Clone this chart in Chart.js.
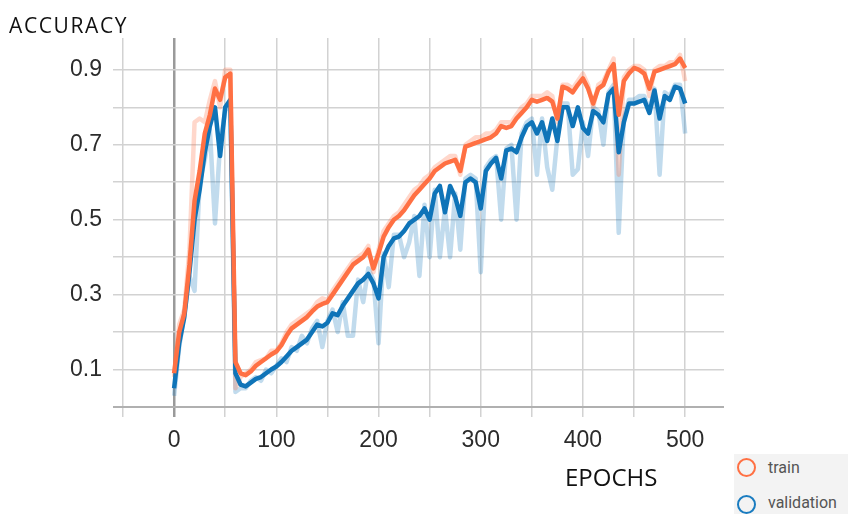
<!DOCTYPE html>
<html>
<head>
<meta charset="utf-8">
<script src="https://cdn.jsdelivr.net/npm/chart.js@4.4.1/dist/chart.umd.min.js"></script>
<style>
    body { margin: 0; background: #fff; }
    #wrap { position: relative; width: 848px; height: 514px; overflow: hidden; }
    #yTitle { position: absolute; left: 9px; top: 15px; font: 21px/21px "Open Sans", sans-serif; letter-spacing: 1.6px; color: #111; }
    #xTitle { position: absolute; left: 565px; top: 465px; font: 24px/24px "Open Sans", sans-serif; color: #111; }
    #legendBox { position: absolute; left: 734px; top: 454px; width: 114px; height: 60px; background: #f3f3f3; }
    .dot { position: absolute; width: 15px; height: 15px; border-radius: 50%; border: 2px solid; box-sizing: content-box; }
    .lbl { position: absolute; left: 768px; font: 16px/16px Roboto, sans-serif; color: #555; }
</style>
</head>
<body>
<div id="wrap">
    <canvas id="accChart" width="848" height="514"></canvas>
    <div id="yTitle">ACCURACY</div>
    <div id="xTitle">EPOCHS</div>
    <div id="legendBox"></div>
    <div class="dot" style="left:737px; top:458px; border-color:#ff7043;"></div>
    <div class="lbl" style="top:460px;">train</div>
    <div class="dot" style="left:737px; top:495px; border-color:#1a7cc0;"></div>
    <div class="lbl" style="top:495px;">validation</div>
</div>
<script>
// epochs sampled every 5
const epochs = [0, 5, 10, 15, 20, 25, 30, 35, 40, 45, 50, 55, 60, 65, 70, 75, 80, 85, 90, 95,
    100, 105, 110, 115, 120, 125, 130, 135, 140, 145, 150, 155, 160, 165, 170, 175, 180, 185, 190, 195,
    200, 205, 210, 215, 220, 225, 230, 235, 240, 245, 250, 255, 260, 265, 270, 275, 280, 285, 290, 295,
    300, 305, 310, 315, 320, 325, 330, 335, 340, 345, 350, 355, 360, 365, 370, 375, 380, 385, 390, 395,
    400, 405, 410, 415, 420, 425, 430, 435, 440, 445, 450, 455, 460, 465, 470, 475, 480, 485, 490, 495, 500];

// smoothed curves
const trainSmooth = [0.09, 0.20, 0.25, 0.38, 0.55, 0.63, 0.73, 0.78, 0.85, 0.82, 0.88, 0.89, 0.12, 0.09, 0.085, 0.095, 0.11, 0.12, 0.13, 0.14,
    0.148, 0.165, 0.19, 0.21, 0.22, 0.23, 0.24, 0.255, 0.268, 0.275, 0.28, 0.30, 0.32, 0.34, 0.36, 0.38, 0.39, 0.40, 0.42, 0.37,
    0.41, 0.455, 0.48, 0.50, 0.51, 0.525, 0.545, 0.565, 0.58, 0.595, 0.61, 0.63, 0.64, 0.65, 0.655, 0.66, 0.63, 0.695, 0.70, 0.705,
    0.71, 0.715, 0.72, 0.73, 0.75, 0.745, 0.75, 0.77, 0.785, 0.80, 0.82, 0.815, 0.82, 0.825, 0.815, 0.77, 0.855, 0.85, 0.84, 0.86,
    0.877, 0.85, 0.81, 0.85, 0.86, 0.895, 0.915, 0.78, 0.87, 0.89, 0.905, 0.90, 0.89, 0.85, 0.895, 0.90, 0.905, 0.91, 0.915, 0.93, 0.905];

const valSmooth = [0.05, 0.17, 0.24, 0.36, 0.50, 0.58, 0.68, 0.75, 0.80, 0.67, 0.80, 0.82, 0.09, 0.06, 0.055, 0.065, 0.075, 0.08, 0.09, 0.10,
    0.108, 0.12, 0.135, 0.15, 0.16, 0.17, 0.18, 0.20, 0.22, 0.215, 0.225, 0.25, 0.245, 0.27, 0.29, 0.31, 0.33, 0.34, 0.355, 0.33,
    0.29, 0.40, 0.43, 0.45, 0.455, 0.47, 0.49, 0.50, 0.51, 0.53, 0.50, 0.57, 0.59, 0.52, 0.59, 0.56, 0.51, 0.60, 0.61, 0.60,
    0.53, 0.63, 0.65, 0.665, 0.61, 0.685, 0.69, 0.68, 0.72, 0.75, 0.76, 0.73, 0.76, 0.71, 0.77, 0.71, 0.80, 0.80, 0.75, 0.80,
    0.745, 0.73, 0.79, 0.78, 0.76, 0.835, 0.85, 0.68, 0.76, 0.81, 0.81, 0.815, 0.82, 0.785, 0.845, 0.77, 0.83, 0.82, 0.855, 0.85, 0.81];

// raw (unsmoothed) values
const trainRaw = [0.08, 0.22, 0.26, 0.42, 0.76, 0.77, 0.76, 0.82, 0.87, 0.80, 0.90, 0.90, 0.05, 0.08, 0.09, 0.10, 0.12, 0.125, 0.13, 0.15,
    0.15, 0.17, 0.20, 0.22, 0.23, 0.24, 0.25, 0.26, 0.28, 0.29, 0.285, 0.31, 0.33, 0.35, 0.37, 0.39, 0.40, 0.41, 0.43, 0.36,
    0.42, 0.47, 0.49, 0.51, 0.52, 0.54, 0.56, 0.58, 0.59, 0.61, 0.62, 0.64, 0.65, 0.66, 0.67, 0.67, 0.62, 0.70, 0.71, 0.72,
    0.72, 0.73, 0.73, 0.74, 0.76, 0.76, 0.76, 0.78, 0.80, 0.81, 0.83, 0.83, 0.83, 0.84, 0.83, 0.76, 0.86, 0.86, 0.85, 0.87,
    0.89, 0.86, 0.80, 0.86, 0.87, 0.90, 0.93, 0.62, 0.88, 0.90, 0.91, 0.91, 0.90, 0.83, 0.90, 0.91, 0.91, 0.92, 0.92, 0.94, 0.87];

const valRaw = [0.03, 0.16, 0.25, 0.35, 0.31, 0.60, 0.66, 0.74, 0.49, 0.70, 0.79, 0.81, 0.04, 0.05, 0.05, 0.07, 0.08, 0.07, 0.10, 0.09,
    0.11, 0.13, 0.12, 0.16, 0.15, 0.19, 0.17, 0.21, 0.23, 0.16, 0.23, 0.26, 0.20, 0.28, 0.19, 0.19, 0.34, 0.28, 0.37, 0.34,
    0.17, 0.41, 0.32, 0.46, 0.46, 0.40, 0.44, 0.51, 0.35, 0.54, 0.40, 0.58, 0.40, 0.53, 0.40, 0.57, 0.42, 0.61, 0.62, 0.61,
    0.36, 0.64, 0.66, 0.67, 0.50, 0.69, 0.70, 0.50, 0.73, 0.76, 0.77, 0.62, 0.77, 0.64, 0.58, 0.72, 0.81, 0.81, 0.62, 0.635,
    0.76, 0.67, 0.80, 0.79, 0.70, 0.84, 0.86, 0.465, 0.77, 0.82, 0.82, 0.83, 0.83, 0.79, 0.85, 0.62, 0.84, 0.83, 0.86, 0.86, 0.73];

const xTickLabels = [0, 100, 200, 300, 400, 500];
const yTickLabels = [0.1, 0.3, 0.5, 0.7, 0.9];

function toPoints(values) {
    return epochs.map((e, i) => ({ x: e, y: values[i] }));
}

function line(label, values, color, width, order) {
    return {
        label: label,
        data: toPoints(values),
        borderColor: color,
        borderWidth: width,
        pointRadius: 0,
        tension: 0,
        fill: false,
        borderJoinStyle: "round",
        order: order,
    };
}

const tickFont = { family: "'Liberation Sans', Arial, sans-serif", size: 23 };

new Chart(document.getElementById("accChart").getContext("2d"), {
    type: "line",
    data: {
        datasets: [
            line("train", trainSmooth, "#ff7043", 4.5, 0),
            line("validation", valSmooth, "#0f74b8", 4.5, 1),
            line("train raw", trainRaw, "rgba(255, 112, 67, 0.28)", 4.5, 2),
            line("validation raw", valRaw, "rgba(15, 116, 184, 0.26)", 4.5, 3),
        ],
    },
    options: {
        responsive: false,
        animation: false,
        layout: { padding: { left: 0, right: 124, top: 38, bottom: 0 } },
        plugins: {
            legend: { display: false },
            tooltip: { enabled: false },
        },
        scales: {
            x: {
                type: "linear",
                min: -50,
                max: 538,
                border: { display: false },
                grid: {
                    color: (ctx) => ctx.tick && ctx.tick.value === 0 ? "#9a9a9a" : "#d2d2d2",
                    lineWidth: (ctx) => ctx.tick && ctx.tick.value === 0 ? 2.5 : 1.5,
                    tickLength: 10,
                },
                ticks: {
                    stepSize: 50,
                    includeBounds: false,
                    maxRotation: 0,
                    autoSkip: false,
                    padding: 10,
                    color: "#2b2b2b",
                    font: tickFont,
                    callback: (v) => xTickLabels.includes(v) ? String(v) : "",
                },
                afterFit: (scale) => { scale.height = 107; },
            },
            y: {
                min: 0,
                max: 0.985,
                border: { display: false },
                grid: {
                    color: (ctx) => ctx.tick && ctx.tick.value === 0 ? "#b0b0b0" : "#d2d2d2",
                    lineWidth: (ctx) => ctx.tick && ctx.tick.value === 0 ? 2 : 1.5,
                    tickLength: 10,
                },
                ticks: {
                    stepSize: 0.1,
                    includeBounds: false,
                    autoSkip: false,
                    padding: 11,
                    color: "#2b2b2b",
                    font: tickFont,
                    callback: (v) => {
                        const r = Math.round(v * 10) / 10;
                        return yTickLabels.includes(r) ? r.toFixed(1) : "";
                    },
                },
                afterFit: (scale) => { scale.width = 123; },
            },
        },
    },
});
</script>
</body>
</html>
